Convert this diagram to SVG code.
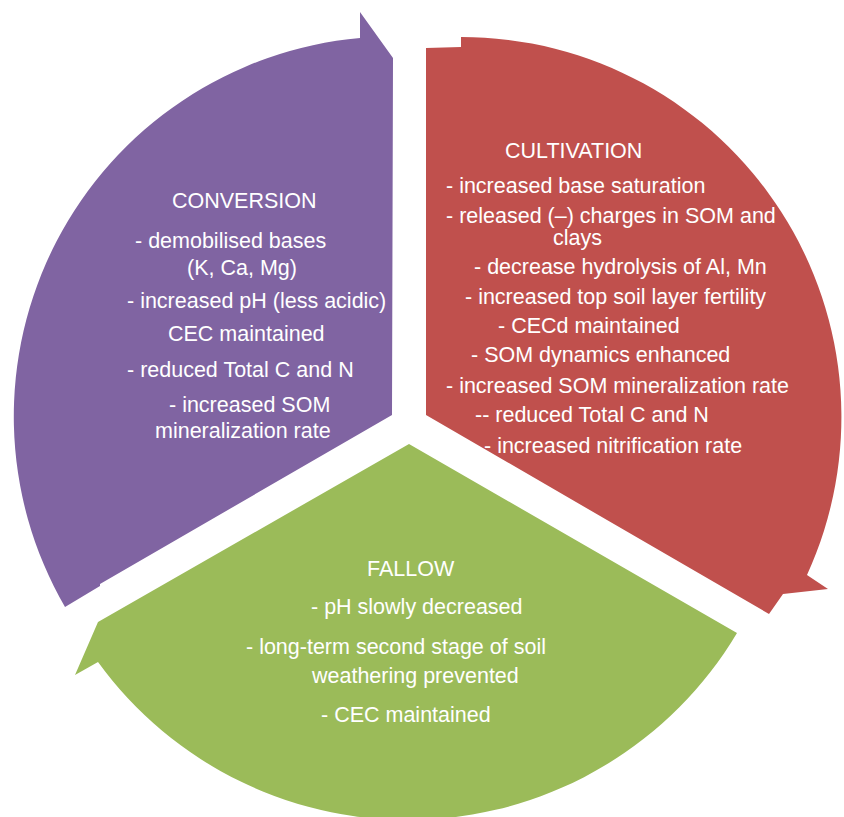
<svg xmlns="http://www.w3.org/2000/svg" width="844" height="817" viewBox="0 0 844 817">
<style>
text{font-family:"Liberation Sans",Arial,sans-serif;font-size:21.5px;fill:#ffffff}
.p{fill:#8064A2}.r{fill:#C0504D}.g{fill:#9BBB59}
</style>
<rect width="844" height="817" fill="#ffffff"/>
<g id="conversion">
<path class="p" d="M392,415 L100,584 L100,586 L65,607 A380,380 0 0 1 360,38 L360,12 L393,58 Z"/>
<text x="172" y="208">CONVERSION</text>
<text x="135" y="248">- demobilised bases</text>
<text x="187" y="275">(K, Ca, Mg)</text>
<text x="127" y="308">- increased pH (less acidic)</text>
<text x="168" y="341">CEC maintained</text>
<text x="127" y="377">- reduced Total C and N</text>
<text x="169" y="412">- increased SOM</text>
<text x="155" y="438">mineralization rate</text>
</g>
<g id="cultivation">
<path class="r" d="M426,415 L426,48 L461,47 L461,37 A380,380 0 0 1 807,575 L828,589 L783,594 L769,614 Z"/>
<text x="505" y="158">CULTIVATION</text>
<text x="446" y="193">- increased base saturation</text>
<text x="446" y="223">- released (–) charges in SOM and</text>
<text x="553" y="245">clays</text>
<text x="474" y="274">- decrease hydrolysis of Al, Mn</text>
<text x="465" y="304">- increased top soil layer fertility</text>
<text x="498" y="333">- CECd maintained</text>
<text x="471" y="362">- SOM dynamics enhanced</text>
<text x="446" y="393">- increased SOM mineralization rate</text>
<text x="475" y="422">-- reduced Total C and N</text>
<text x="484" y="453">- increased nitrification rate</text>
</g>
<g id="fallow">
<path class="g" d="M409,444 L98,622 L75,675 L98,662 A383,383 0 0 0 737,633 Z"/>
<text x="367" y="576">FALLOW</text>
<text x="311" y="614">- pH slowly decreased</text>
<text x="246" y="654">- long-term second stage of soil</text>
<text x="312" y="683">weathering prevented</text>
<text x="321" y="722">- CEC maintained</text>
</g>
<g id="connectors"></g>
</svg>
